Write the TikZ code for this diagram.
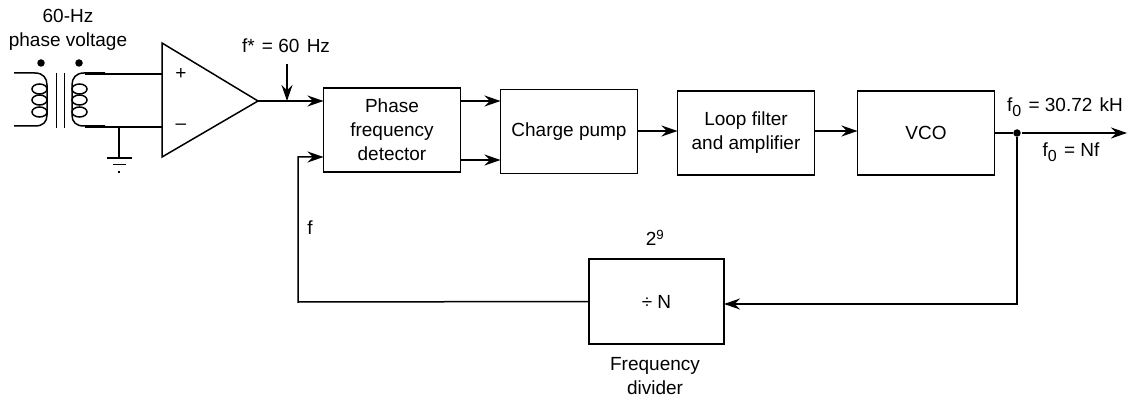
\documentclass[tikz,border=0pt]{standalone}
\usepackage{fontspec}
\setmainfont{Liberation Sans}
\usetikzlibrary{positioning,arrows.meta}
\newcommand{\fzero}{f\raisebox{-5pt}{\fontsize{16}{16}\selectfont 0}}

\begin{document}
\begin{tikzpicture}[x=1pt,y=-1pt,font=\fontsize{19}{24}\selectfont,line width=1.5pt,
      block/.style={draw,minimum width=137pt,minimum height=84pt,align=center,inner sep=0pt,outer sep=0pt},
      lbl/.style={align=center,inner sep=0pt},
      arr/.style={-{Stealth[length=16pt,width=11pt]}},
      dot/.style={circle,fill=black,inner sep=0pt,minimum size=7.5pt},
      coil/.pic={
        \draw (-33,-27) -- (-12,-27) .. controls (-4,-27) and (0,-22) .. (0,-15) -- (0,15) .. controls (0,22) and (-4,26) .. (-12,26) -- (-33,26);
        \foreach \yy in {-11,0,12} \draw (-7.5,\yy) ellipse (7.5pt and 5pt);
      }]
    \useasboundingbox (0,0) rectangle (1129,398);
    % blocks
    \node[block] (pfd) at (392,130) {Phase\\frequency\\detector};
    \node[block,right=40pt of pfd,yshift=-1.5pt] (pump) {Charge pump};
    \node[block,right=40pt of pump,yshift=-1.5pt] (filter) {Loop filter\\and amplifier};
    \node[block,right=43pt of filter] (vco) {VCO};
    \node[block,minimum width=135pt,minimum height=85pt] (divider) at (656.5,301.5) {÷ N};
    % transformer
    \pic at (47,100) {coil};
    \pic[xscale=-1] at (72,100) {coil};
    \draw[line width=.8pt] (56,73) -- (56,128) (64,73) -- (64,128);
    \node[dot] (dotl) at (41,63) {};
    \node[dot] (dotr) at (79,63) {};
    % amplifier
    \coordinate (ampplus) at (162,74);
    \coordinate (ampminus) at (162,127);
    \coordinate (ampout) at (258,101);
    \draw (162,43) -- (162,157) -- (ampout) -- cycle;
    \node[lbl] (plus) at (181,74) {+};
    \node[lbl] (minus) at (181,127) {--};
    \coordinate (secplus) at (85,74);
    \coordinate (secminus) at (85,127);
    \coordinate (gnd) at (119,127);
    \coordinate (gndbar) at (119,158);
    \draw (secplus) -- (ampplus);
    \draw (secminus) -- (ampminus);
    \draw (gnd) -- (gndbar);
    \draw (107,158) -- (132,158) (113,164.5) -- (126,164.5);
    \draw (118,172) -- (120,172);
    % labels
    \node[lbl] (title) at (68,29.5) {60-Hz\\phase voltage};
    \node[lbl] (fstar) at (286,46) {f*\hspace{2pt} = 60\hspace{2pt} Hz};
    \node[lbl] (fback) at (310,228) {f};
    \node[lbl] (fout) at (1065,107) {\fzero{}\hspace{2pt} = 30.72\hspace{2pt} kH};
    \node[lbl] (fnf) at (1071,152) {\fzero{}\hspace{2pt} = Nf};
    \node[lbl] (two) at (655,238) {2\textsuperscript{9}};
    \node[lbl] (divname) at (655,376) {Frequency\\divider};
    % connectors
    \coordinate (tick) at (287,64);
    \draw[arr] (ampout) -- (ampout -| pfd.west);
    \draw[arr] (tick) -- (287,101);
    \draw[arr] (pfd.east |- ampout) -- (pump.west |- ampout);
    \draw[arr] (pfd.east |- 0,160) -- (pump.west |- 0,160);
    \draw[arr] (pump.east |- 0,131) -- (filter.west |- 0,131);
    \draw[arr] (filter.east |- 0,131) -- (vco.west |- 0,131);
    \node[dot] (node) at (1017,133) {};
    \coordinate (out) at (1127,133);
    \draw (vco.east) -- (node);
    \draw[arr] (node) -- (out);
    \draw[arr] (node) |- (divider.east |- 0,304);
    \draw[arr] (divider.west) -- (298,302) -- (298,157) -- (pfd.west |- 0,157);
  \end{tikzpicture}
\end{document}
